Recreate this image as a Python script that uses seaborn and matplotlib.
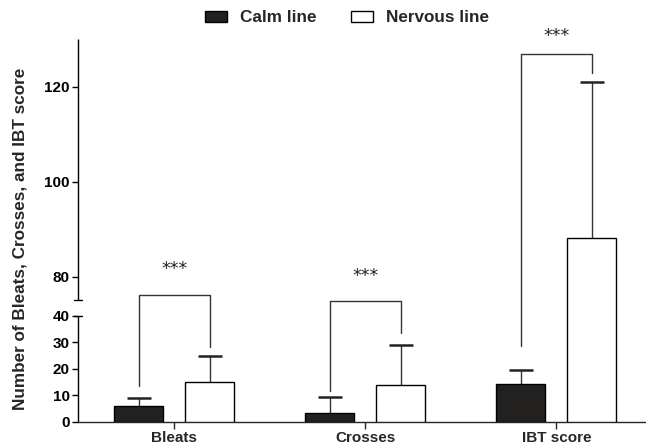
import numpy as np
import pandas as pd
import matplotlib
matplotlib.use("Agg")
import matplotlib.pyplot as plt
import seaborn as sns

# ---------------- data ----------------
categories = ["Bleats", "Crosses", "IBT score"]
groups = ["Calm line", "Nervous line"]
calm_mean = [5.9, 3.4, 14.2]
calm_err = [3.2, 6.0, 5.3]
nervous_mean = [15.1, 13.8, 88.2]
nervous_err = [9.7, 15.1, 32.8]
sig_labels = ["***", "***", "***"]
bracket_top = [76.2, 72.7, 126.9]
bracket_left_bottom = [13.4, 11.7, 28.7]
bracket_right_bottom = [28.3, 33.6, 122.9]
star_level = [81.7, 80.1, 130.6]
lower_ticks = [0, 10, 20, 30, 40]
upper_ticks = [80, 100, 120]

# ---------------- style ----------------
sns.set_style("ticks")
plt.rcParams["font.family"] = ["Liberation Sans", "DejaVu Sans"]
plt.rcParams["font.weight"] = "bold"

# broken axis as a piecewise-linear scale
brk_v = [-1000, 0, 40, 75, 130, 1000]
brk_p = [-2650, 0, 106, 121, 382, 382 + 870 * 4.745]


def fwd(v):
    return np.interp(v, brk_v, brk_p)


def inv(p):
    return np.interp(p, brk_p, brk_v)


df = pd.DataFrame({
    "category": categories * 2,
    "line": [groups[0]] * 3 + [groups[1]] * 3,
    "mean": calm_mean + nervous_mean,
})

fig = plt.figure(figsize=(6.46, 4.48), dpi=100)
ax = fig.add_axes([0.1212, 0.0587, 0.8788, 0.8542])
ax.set_yscale("function", functions=(fwd, inv))

sns.barplot(data=df, x="category", y="mean", hue="line",
            palette={groups[0]: "#231f20", groups[1]: "white"},
            width=0.744, gap=0.31, edgecolor="black", linewidth=1.0,
            errorbar=None, ax=ax, zorder=3)

ax.set_ylim(0, 130)
ax.set_xlim(-0.503, 2.47)

# error bars (upper only)
centers = []
for cont, means, errs in zip(ax.containers, [calm_mean, nervous_mean],
                             [calm_err, nervous_err]):
    xs = [b.get_x() + b.get_width() / 2 for b in cont]
    centers.append(xs)
    for x, m, e in zip(xs, means, errs):
        ax.plot([x, x], [m, m + e], color="#333333", lw=1.0, zorder=2)
        half = 0.063
        ax.plot([x - half, x + half], [m + e, m + e], color="#222222",
                lw=1.8, solid_capstyle="butt", zorder=2)

# significance brackets
for i in range(len(categories)):
    xl, xr = centers[0][i], centers[1][i]
    ax.plot([xl, xl, xr, xr],
            [bracket_left_bottom[i], bracket_top[i], bracket_top[i],
             bracket_right_bottom[i]],
            color="#333333", lw=1.0, zorder=4, clip_on=False)
    ax.text((xl + xr) / 2, star_level[i], sig_labels[i], ha="center",
            va="center", fontsize=12.5, fontweight="normal", color="#222222",
            family=["DejaVu Sans"], clip_on=False)

# axis spines with break
for s in ["top", "right", "left"]:
    ax.spines[s].set_visible(False)
ax.spines["bottom"].set_linewidth(1.0)
trans = ax.get_yaxis_transform()
capw = 4.0 / (0.8788 * 646)
ax.plot([0, 0], [0, 40], transform=trans, color="black", lw=1.0,
        clip_on=False, solid_capstyle="butt")
ax.plot([0, 0], [75, 130], transform=trans, color="black", lw=1.0,
        clip_on=False, solid_capstyle="butt")
ax.plot([-capw, capw], [40, 40], transform=trans, color="black", lw=1.0,
        clip_on=False)
ax.plot([-capw, capw], [75, 75], transform=trans, color="black", lw=1.0,
        clip_on=False)

yt = lower_ticks + upper_ticks
ax.set_yticks(yt)
ax.set_yticklabels([str(t) for t in yt])
ax.tick_params(axis="y", length=4, width=1.0, labelsize=11, pad=2,
               colors="black")
ax.tick_params(axis="x", length=5, width=1.0, labelsize=11, pad=2)
for lab in ax.get_xticklabels() + ax.get_yticklabels():
    lab.set_fontweight("bold")

ax.set_xlabel("")
ax.set_ylabel("Number of Bleats, Crosses, and IBT score", fontsize=12.3,
              fontweight="bold")
ax.yaxis.set_label_coords(-0.09, 0.477)

# legend
handles = [
    plt.Rectangle((0, 0), 1, 1, facecolor="#231f20", edgecolor="black", lw=1),
    plt.Rectangle((0, 0), 1, 1, facecolor="white", edgecolor="black", lw=1),
]
leg = ax.get_legend()
if leg is not None:
    leg.remove()
fig.legend(handles, groups, loc="center", bbox_to_anchor=(0.537, 0.96),
           ncol=2, frameon=False, prop={"weight": "bold", "size": 12.3},
           handlelength=1.3, handleheight=0.65, handletextpad=0.75,
           columnspacing=2.0)

fig.savefig("out.png", dpi=100)
